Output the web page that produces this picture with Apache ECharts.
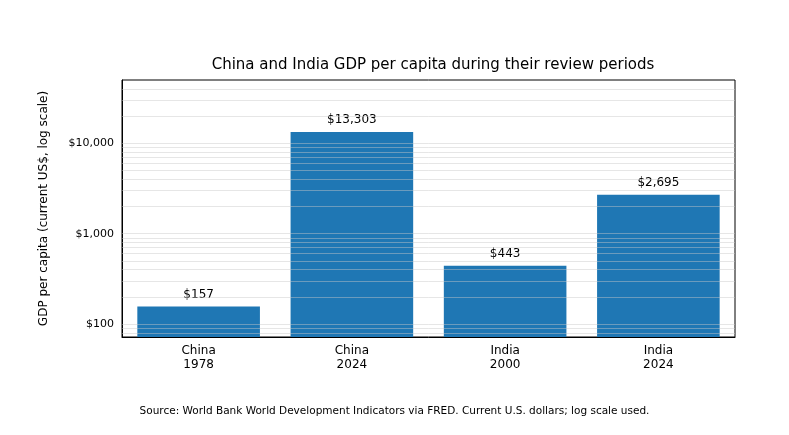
<!DOCTYPE html>
<html>
<head>
<meta charset="utf-8">
<script src="https://cdn.jsdelivr.net/npm/echarts@6/dist/echarts.min.js"></script>
<style>html,body{margin:0;padding:0;background:#fff}#chart{width:789px;height:435px}</style>
</head>
<body>
<div id="chart"></div>
<script>
let categories = ['China\n1978', 'China\n2024', 'India\n2000', 'India\n2024'];
let gdpValues = [157, 13303, 443, 2695];
let majorTicks = [100, 1000, 10000];
let axisMin = 72, axisMax = 50000;

// log grid lines: 1..9 x each decade inside the axis range
let gridValues = [];
[10, 100, 1000, 10000].forEach(d => {
  for (let k = 1; k <= 9; k++) {
    let v = k * d;
    if (v > axisMin && v < axisMax) gridValues.push(v);
  }
});

let fmt = v => '$' + v.toLocaleString('en-US');
let font = 'DejaVu Sans';

let chart = echarts.init(document.getElementById('chart'));
chart.setOption({
  animation: false,
  textStyle: {fontFamily: font},
  title: {
    text: 'China and India GDP per capita during their review periods',
    left: 428, top: 53, textAlign: 'center',
    textStyle: {fontFamily: font, fontSize: 15, fontWeight: 'normal', color: '#000'}
  },
  graphic: [{
    type: 'text', left: 'center', top: 406,
    style: {text: 'Source: World Bank World Development Indicators via FRED. Current U.S. dollars; log scale used.',
      font: '10.5px DejaVu Sans', fill: '#000'}
  }],
  grid: {left: 122, right: 54, top: 80, bottom: 98, show: true, borderColor: '#000', borderWidth: 1},
  xAxis: {
    type: 'category', data: categories,
    axisLine: {lineStyle: {color: '#000'}},
    axisTick: {alignWithLabel: true, length: 4, lineStyle: {color: '#000'}},
    axisLabel: {color: '#000', fontSize: 12, lineHeight: 14, margin: 7}
  },
  yAxis: {
    type: 'log', logBase: 10, min: axisMin, max: axisMax,
    name: 'GDP per capita (current US$, log scale)', nameLocation: 'middle', nameGap: 72,
    nameTextStyle: {fontSize: 12, color: '#000'},
    axisLine: {show: true, lineStyle: {color: '#000'}},
    axisTick: {customValues: gridValues, length: 3, lineStyle: {color: '#000'}},
    axisLabel: {customValues: majorTicks, formatter: fmt, color: '#000', fontSize: 11},
    splitLine: {show: false}
  },
  series: [{
    type: 'bar', data: gdpValues, barWidth: '80%',
    itemStyle: {color: '#1f77b4'},
    label: {show: true, position: 'top', distance: 6, formatter: p => fmt(p.value), color: '#000', fontSize: 12},
    markLine: {
      silent: true, symbol: 'none', label: {show: false},
      lineStyle: {color: 'rgba(200,200,200,0.45)', type: 'solid', width: 1},
      data: gridValues.map(v => ({yAxis: v}))
    }
  }]
});
</script>
</body>
</html>
